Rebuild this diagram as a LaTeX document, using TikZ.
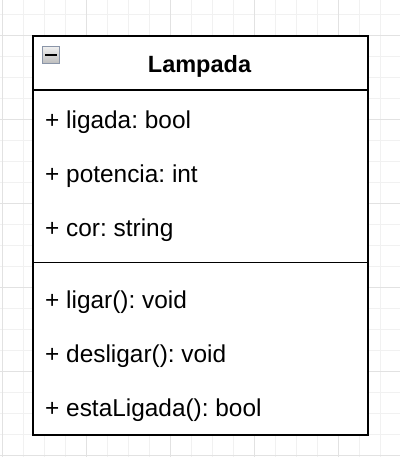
\documentclass[tikz,border=0pt]{standalone}
\usepackage{fontspec}
\setmainfont{Liberation Sans}
\frenchspacing
\definecolor{gridlight}{HTML}{F1F1F1}
\definecolor{griddark}{HTML}{E2E2E2}
\definecolor{iconborder}{HTML}{8A95A8}
\begin{document}
\begin{tikzpicture}[x=1pt,y=-1pt,
  gridminor/.style={draw=gridlight, line width=0.9pt},
  gridmajor/.style={draw=griddark, line width=0.9pt},
  classbox/.style={draw=black, line width=1.8pt},
  member/.style={anchor=base west, inner sep=0pt, font=\fontsize{24.4}{29}\selectfont\frenchspacing},
  classname/.style={anchor=base, inner sep=0pt, font=\fontsize{23.5}{28}\selectfont\bfseries},
  toggle/.style={draw=iconborder, line width=1.4pt, top color=white!94!black, bottom color=white!74!black, minimum size=17, inner sep=0pt}]
\useasboundingbox (0,0) rectangle (400,457);
\fill[white] (0,0) rectangle (400,457);
% background grid
\foreach \x in {2,23,...,400} \draw[gridminor] (\x,0) -- (\x,457);
\foreach \y in {14,35,...,457} \draw[gridminor] (0,\y) -- (400,\y);
\foreach \x in {2,86,...,400} \draw[gridmajor] (\x,0) -- (\x,457);
\foreach \y in {35,119,...,457} \draw[gridmajor] (0,\y) -- (400,\y);
% class box with a soft shadow
\fill[black!45] (33.5,36.5) rectangle (368.8,435.6);
\node[classbox, fill=white, minimum width=335, minimum height=399, inner sep=0pt, anchor=north west] (cls) at (32,35) {};
\coordinate (hdr) at (32,90);
\coordinate (sep) at (32,262.5);
\draw[classbox] (hdr) -- (hdr -| cls.east);
\draw[classbox] (sep) -- (sep -| cls.east);
% collapse toggle
\node[toggle, anchor=north west] (fold) at (41.8,45.6) {};
\draw[line width=1.8pt] (fold.center) ++(-5.8,0) -- ++(11.6,0);
% class name
\node[classname] (title) at (199.5,72.3) {Lampada};
% attributes
\node[member] (a1) at (45,128.3) {+ ligada: bool};
\node[member] (a2) at (45,182.3) {+ potencia: int};
\node[member] (a3) at (45,236.3) {+ cor: string};
% operations
\node[member] (m1) at (45,308.3) {+ ligar(): void};
\node[member] (m2) at (45,362.5) {+ desligar(): void};
\node[member] (m3) at (45,416.5) {+ estaLigada(): bool};
\end{tikzpicture}
\end{document}
